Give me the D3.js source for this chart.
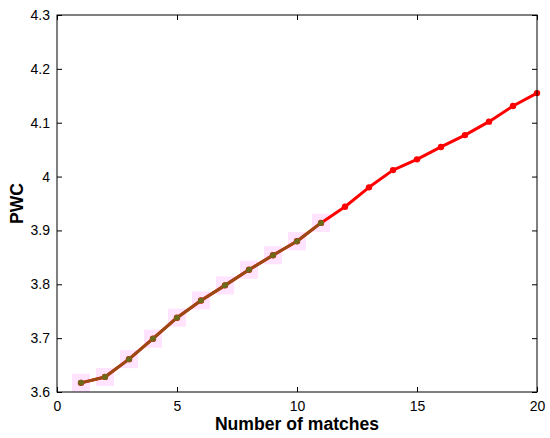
<!DOCTYPE html>
<html><head><meta charset="utf-8">
<script src="https://cdn.jsdelivr.net/npm/d3@7"></script>
<style>body{margin:0;background:#fff}svg{display:block}text{font-family:"Liberation Sans",Arial,sans-serif}</style>
</head><body><svg id="c" width="550" height="438"></svg>
<script>
const matches = [1,2,3,4,5,6,7,8,9,10,11,12,13,14,15,16,17,18,19,20];
const pwcRed = [3.617,3.628,3.661,3.699,3.738,3.770,3.798,3.827,3.854,3.880,3.914,3.944,3.980,4.012,4.032,4.055,4.077,4.102,4.131,4.155];
const pwcBrown = [3.617,3.628,3.661,3.699,3.738,3.770,3.798,3.827,3.854,3.880,3.914];
const xTicks = [0,5,10,15,20];
const yTicks = [3.6,3.7,3.8,3.9,4.0,4.1,4.2,4.3];
const yTickLabels = ["3.6","3.7","3.8","3.9","4","4.1","4.2","4.3"];

const svg = d3.select("#c");
const L=57,R=537,T=15,B=392;
const x = d3.scaleLinear().domain([0,20]).range([L,R]);
const y = d3.scaleLinear().domain([3.6,4.3]).range([B,T]);

// pink squares behind brown series
svg.append("g").selectAll("rect").data(pwcBrown).join("rect")
  .attr("x",(d,i)=>x(matches[i])-9).attr("y",d=>y(d)-9)
  .attr("width",18).attr("height",18)
  .attr("fill","#ff99ff").attr("opacity",0.28);

const line = d3.line().x((d,i)=>x(matches[i])).y(d=>y(d));
svg.append("path").datum(pwcRed).attr("d",line).attr("fill","none")
  .attr("stroke","#ff0000").attr("stroke-width",3).attr("stroke-linejoin","round");
svg.append("g").selectAll("circle").data(pwcRed).join("circle")
  .attr("cx",(d,i)=>x(matches[i])).attr("cy",d=>y(d)).attr("r",3.2).attr("fill","#ff0000");

svg.append("path").datum(pwcBrown).attr("d",line).attr("fill","none")
  .attr("stroke","#9a4a14").attr("stroke-width",3).attr("stroke-linejoin","round");
svg.append("g").selectAll("circle.b").data(pwcBrown).join("circle")
  .attr("cx",(d,i)=>x(matches[i])).attr("cy",d=>y(d)).attr("r",3).attr("fill","#6b6a1a");

// axes
const ax = svg.append("g").attr("transform",`translate(0,${B})`)
  .call(d3.axisBottom(x).tickValues(xTicks).tickSizeInner(-5).tickSizeOuter(0).tickPadding(9));
const ay = svg.append("g").attr("transform",`translate(${L},0)`)
  .call(d3.axisLeft(y).tickValues(yTicks).tickFormat((d,i)=>yTickLabels[i]).tickSizeInner(-5).tickSizeOuter(0).tickPadding(7));
const at = svg.append("g").attr("transform",`translate(0,${T})`)
  .call(d3.axisTop(x).tickValues(xTicks).tickSizeInner(-5).tickSizeOuter(0).tickFormat(""));
const ar = svg.append("g").attr("transform",`translate(${R},0)`)
  .call(d3.axisRight(y).tickValues(yTicks).tickSizeInner(-5).tickSizeOuter(0).tickFormat(""));
[ax,ay,at,ar].forEach(g=>{g.select(".domain").remove();g.selectAll("line").attr("stroke","#000");
  g.selectAll("text").attr("font-size",14).attr("fill","#000").style("font-family","Liberation Sans, Arial, sans-serif");});
svg.append("rect").attr("x",L).attr("y",T).attr("width",R-L).attr("height",B-T)
  .attr("fill","none").attr("stroke","#000").attr("stroke-width",1);

svg.append("text").attr("x",(L+R)/2).attr("y",430).attr("text-anchor","middle")
  .attr("font-size",17.6).attr("font-weight","bold").text("Number of matches");
svg.append("text").attr("transform",`translate(23,${(T+B)/2}) rotate(-90)`).attr("text-anchor","middle")
  .attr("font-size",17.6).attr("font-weight","bold").text("PWC");
</script></body></html>
